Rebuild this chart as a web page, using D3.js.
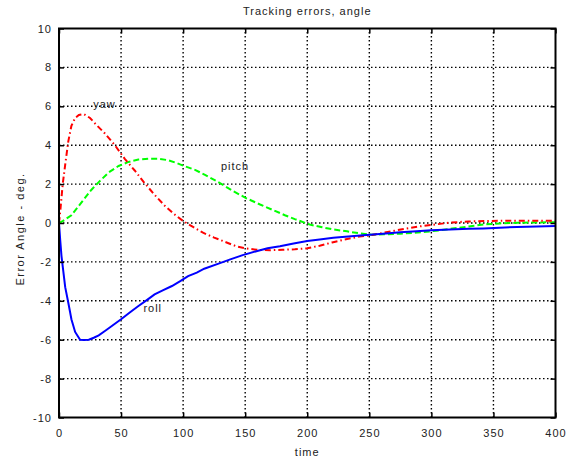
<!DOCTYPE html>
<html>
<head>
<meta charset="utf-8">
<script src="https://cdn.jsdelivr.net/npm/d3@7"></script>
<style>
  body { margin: 0; background: #fff; }
  text { font-family: Arial, "Liberation Sans", sans-serif; fill: #222; }
</style>
</head>
<body>
<svg id="chart" width="576" height="459"></svg>
<script>
// Series: [time, error angle]
const yaw = [
  [0, 0], [1, 0.6], [2, 1.3], [3, 2.0], [5, 3.0], [7.5, 4.2], [10, 5.0], [13, 5.4],
  [16, 5.55], [20, 5.6], [25, 5.4], [30, 5.05], [37, 4.6], [45, 4.0], [53, 3.3],
  [61, 2.7], [69, 2.05], [77, 1.45], [85, 0.9], [92, 0.5], [100, 0.1], [108, -0.2],
  [116, -0.5], [125, -0.75], [135, -1.0], [143, -1.2], [150, -1.3], [160, -1.38],
  [170, -1.4], [180, -1.38], [190, -1.35], [200, -1.3], [210, -1.17], [220, -1.0],
  [230, -0.85], [242, -0.7], [252, -0.62], [260, -0.52], [270, -0.4], [280, -0.28],
  [290, -0.18], [300, -0.1], [315, 0.02], [330, 0.08], [345, 0.1], [360, 0.12],
  [380, 0.12], [400, 0.12]
];
const pitch = [
  [0, 0], [3, 0.1], [10, 0.4], [18, 1.05], [26, 1.7], [32, 2.1], [40, 2.6], [48, 2.93],
  [56, 3.14], [64, 3.26], [72, 3.3], [80, 3.3], [88, 3.23], [95, 3.08], [100, 2.95],
  [110, 2.72], [118, 2.46], [130, 2.04], [140, 1.65], [151, 1.27], [162, 0.95],
  [173, 0.65], [182, 0.4], [190, 0.2], [202, -0.08], [212, -0.22], [221, -0.33],
  [232, -0.43], [243, -0.54], [252, -0.6], [262, -0.58], [275, -0.55], [286, -0.5],
  [296, -0.45], [306, -0.38], [315, -0.3], [330, -0.18], [342, -0.08], [355, -0.02],
  [369, 0.01], [385, 0.03], [400, 0.04]
];
const roll = [
  [0, 0], [1, -0.9], [2, -1.7], [3.5, -2.5], [5, -3.3], [7.5, -4.1], [10, -4.95],
  [13, -5.6], [17, -6.0], [20, -6.02], [24, -6.0], [28, -5.9], [32, -5.78], [37, -5.55],
  [42, -5.32], [50, -4.95], [57, -4.6], [64, -4.27], [71, -3.95], [77, -3.67],
  [84, -3.45], [91, -3.24], [98, -2.98], [104, -2.73], [111, -2.55], [117, -2.35],
  [128, -2.1], [138, -1.87], [148, -1.65], [159, -1.45], [168, -1.3], [178, -1.19],
  [189, -1.05], [200, -0.93], [210, -0.85], [221, -0.76], [233, -0.69], [245, -0.63],
  [261, -0.55], [275, -0.48], [288, -0.42], [300, -0.37], [315, -0.33], [330, -0.3],
  [342, -0.28], [355, -0.24], [369, -0.2], [385, -0.18], [400, -0.16]
];

const xTicks = [0, 50, 100, 150, 200, 250, 300, 350, 400];
const yTicks = [-10, -8, -6, -4, -2, 0, 2, 4, 6, 8, 10];

// curve labels: [text, time, value]
const notes = [["yaw", 27.5, 5.9], ["pitch", 130.5, 2.75], ["roll", 68, -4.6]];

const margin = { top: 28.5, right: 20.5, bottom: 41.5, left: 59 };
const width = 576, height = 459;

const $svg = d3.select("#chart");

const x = d3.scaleLinear().domain([0, 400]).range([margin.left, width - margin.right]);
const y = d3.scaleLinear().domain([-10, 10]).range([height - margin.bottom, margin.top]);

// Grid
const $grid = $svg.append("g");
$grid.selectAll(".gv")
  .data(xTicks.slice(1, -1))
  .join("line")
    .attr("x1", d => x(d)).attr("x2", d => x(d))
    .attr("y1", y(-10)).attr("y2", y(10))
    .attr("stroke", "#000")
    .attr("stroke-width", 1.4)
    .attr("stroke-dasharray", "1.5,2.5");
$grid.selectAll(".gh")
  .data(yTicks.slice(1, -1))
  .join("line")
    .attr("y1", d => y(d)).attr("y2", d => y(d))
    .attr("x1", x(0)).attr("x2", x(400))
    .attr("stroke", "#000")
    .attr("stroke-width", 1.4)
    .attr("stroke-dasharray", "1.5,2.5");

// Curves
const line = d3.line().x(d => x(d[0])).y(d => y(d[1]));
const series = [
  { data: pitch, color: "#00ff00", dash: "6,3" },
  { data: yaw, color: "#ff0000", dash: "6,3,1.5,3" },
  { data: roll, color: "#0000ff", dash: null },
];
$svg.append("g")
  .selectAll("path")
  .data(series)
  .join("path")
    .attr("d", d => line(d.data))
    .attr("fill", "none")
    .attr("stroke", d => d.color)
    .attr("stroke-width", 2)
    .attr("stroke-dasharray", d => d.dash);

// Axes (ticks inside, MATLAB style)
const fmt = d => String(d);
$svg.append("g")
  .attr("transform", `translate(0,${y(-10)})`)
  .call(d3.axisBottom(x).tickValues(xTicks).tickFormat(fmt).tickSizeInner(-5).tickSizeOuter(0).tickPadding(12));
$svg.append("g")
  .attr("transform", `translate(${x(0)},0)`)
  .call(d3.axisLeft(y).tickValues(yTicks).tickFormat(fmt).tickSizeInner(-5).tickSizeOuter(0).tickPadding(7));
$svg.append("g")
  .attr("transform", `translate(0,${y(10)})`)
  .call(d3.axisTop(x).tickValues(xTicks).tickSizeInner(-5).tickSizeOuter(0).tickFormat(""));
$svg.append("g")
  .attr("transform", `translate(${x(400)},0)`)
  .call(d3.axisRight(y).tickValues(yTicks).tickSizeInner(-5).tickSizeOuter(0).tickFormat(""));

$svg.selectAll(".domain").remove();
$svg.selectAll(".tick line").attr("stroke", "#000").attr("stroke-width", 1.5);
$svg.selectAll(".tick text")
  .attr("font-size", 11)
  .attr("font-family", "Arial, 'Liberation Sans', sans-serif")
  .attr("letter-spacing", "1px")
  .attr("fill", "#222");

// Frame
$svg.append("rect")
  .attr("x", x(0)).attr("y", y(10))
  .attr("width", x(400) - x(0)).attr("height", y(-10) - y(10))
  .attr("fill", "none")
  .attr("stroke", "#000")
  .attr("stroke-width", 2);

// Curve labels
$svg.append("g")
  .selectAll("text")
  .data(notes)
  .join("text")
    .attr("x", d => x(d[1]))
    .attr("y", d => y(d[2]))
    .attr("font-size", 11)
    .attr("letter-spacing", "1px")
    .text(d => d[0]);

// Titles
$svg.append("text")
  .attr("x", (x(0) + x(400)) / 2)
  .attr("y", 15)
  .attr("text-anchor", "middle")
  .attr("font-size", 11)
  .attr("letter-spacing", "1px")
  .text("Tracking errors, angle");

$svg.append("text")
  .attr("x", (x(0) + x(400)) / 2)
  .attr("y", 456)
  .attr("text-anchor", "middle")
  .attr("font-size", 11)
  .attr("letter-spacing", "1px")
  .text("time");

$svg.append("text")
  .attr("transform", `translate(24,${y(0) + 6}) rotate(-90)`)
  .attr("text-anchor", "middle")
  .attr("font-size", 11)
  .attr("letter-spacing", "1.5px")
  .text("Error Angle - deg.");
</script>
</body>
</html>
